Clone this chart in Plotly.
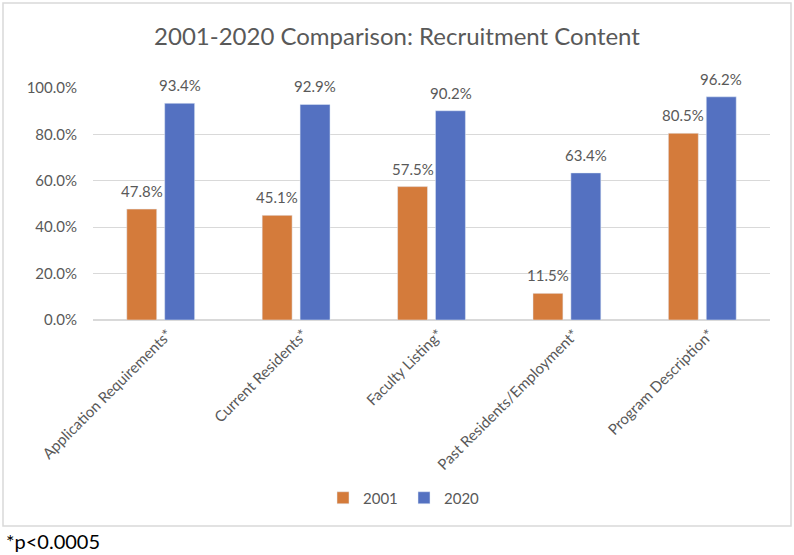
import plotly.graph_objects as go

categories = ["Application Requirements*", "Current Residents*", "Faculty Listing*",
              "Past Residents/Employment*", "Program Description*"]
values_2001 = [0.478, 0.451, 0.575, 0.115, 0.805]
values_2020 = [0.934, 0.929, 0.902, 0.634, 0.962]
y_ticks = [0, 0.2, 0.4, 0.6, 0.8, 1.0]
y_tick_labels = ["0.0%", "20.0%", "40.0%", "60.0%", "80.0%", "100.0%"]

W, H = 794, 555
L, R, T, B = 93, 770, 88, 320  # plot area pixel box
pw, ph = R - L, B - T

def px(x):
    return (x - L) / pw

def py(y):
    return (B - y) / ph

font_fam = "Lato, 'Open Sans', sans-serif"
gray = "#595959"
c2001, c2020 = "#D47B3B", "#5471C1"

fig = go.Figure()
fig.add_trace(go.Bar(name="2001", x=categories, y=values_2001, marker_color=c2001))
fig.add_trace(go.Bar(name="2020", x=categories, y=values_2020, marker_color=c2020))

annotations = []
for vals, shift in ((values_2001, -19), (values_2020, 19)):
    for c, v in zip(categories, vals):
        annotations.append(dict(x=c, y=v, xref="x", yref="y", text=f"{v * 100:.1f}%",
                                showarrow=False, xshift=shift, yshift=7, yanchor="bottom",
                                font=dict(size=15, color=gray, family=font_fam)))

annotations.append(dict(text="*p<0.0005", xref="paper", yref="paper", x=px(4), y=py(541),
                        xanchor="left", yanchor="middle", showarrow=False,
                        font=dict(size=20, color="black", family=font_fam)))

fig.update_layout(
    width=W, height=H,
    margin=dict(l=L, r=W - R, t=T, b=H - B, pad=0),
    paper_bgcolor="white", plot_bgcolor="white",
    barmode="group", bargap=0.44, bargroupgap=0.21,
    font=dict(family=font_fam, color=gray, size=15),
    title=dict(text="2001-2020 Comparison: Recruitment Content", x=397 / W, xanchor="center",
               y=1 - 37 / H, yanchor="middle", font=dict(size=24, color=gray, family=font_fam)),
    showlegend=True,
    legend=dict(orientation="h", x=px(404), xanchor="center", y=py(498), yanchor="middle",
                font=dict(size=15, color=gray, family=font_fam), itemwidth=30,
                entrywidth=36, entrywidthmode="pixels",
                bgcolor="rgba(0,0,0,0)"),
    xaxis=dict(tickangle=-45, showgrid=False, showline=False, ticks="",
               ticklabelshift=7, ticklabelstandoff=2,
               tickfont=dict(size=15, color=gray, family=font_fam)),
    yaxis=dict(range=[0, 1.0], tickvals=y_ticks, ticktext=y_tick_labels, showgrid=True,
               gridcolor="#D9D9D9", gridwidth=1, zeroline=True, zerolinecolor="#D9D9D9",
               showline=False, ticks="", ticklabelstandoff=15,
               tickfont=dict(size=15, color=gray, family=font_fam)),
    shapes=[dict(type="rect", xref="paper", yref="paper",
                 x0=px(3), x1=px(791), y0=py(526), y1=py(3),
                 line=dict(color="#D9D9D9", width=1.5), fillcolor="rgba(0,0,0,0)", layer="below")],
    annotations=annotations,
)

fig.write_html("out.html", config={"displayModeBar": False},
               post_script="document.body.style.margin='0px';")
